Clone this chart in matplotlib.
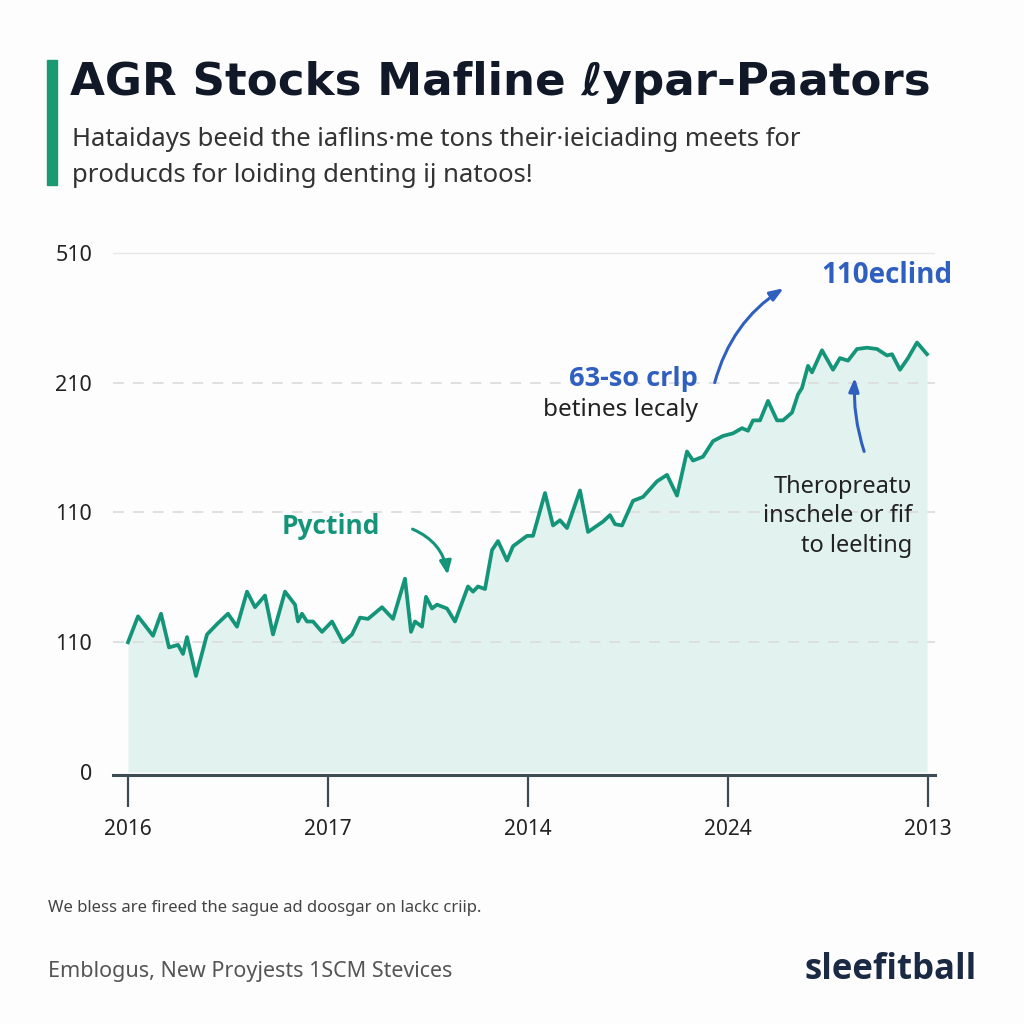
import numpy as np
import matplotlib as mpl
mpl.use('Agg')
import matplotlib.pyplot as plt
from matplotlib.patches import Rectangle

plt.rcParams['font.family'] = ['Noto Sans', 'DejaVu Sans']
BOLD = ['Open Sans', 'DejaVu Sans']

# data (x in tick index units, y in gridline units)
px = [0.00, 0.05, 0.125, 0.165, 0.205, 0.25, 0.275, 0.295, 0.34, 0.395,
      0.445, 0.50, 0.545, 0.595, 0.635, 0.685, 0.725, 0.785, 0.835, 0.85,
      0.87, 0.895, 0.925, 0.97, 1.02, 1.075, 1.12, 1.16, 1.20, 1.27,
      1.325, 1.385, 1.415, 1.435, 1.47, 1.49, 1.52, 1.545, 1.595, 1.635,
      1.70, 1.725, 1.75, 1.785, 1.82, 1.85, 1.895, 1.925, 1.995, 2.025,
      2.085, 2.125, 2.16, 2.195, 2.26, 2.30, 2.375, 2.41, 2.435, 2.47,
      2.525, 2.575, 2.645, 2.695, 2.745, 2.795, 2.825, 2.875, 2.925, 2.975,
      3.025, 3.07, 3.10, 3.125, 3.16, 3.20, 3.245, 3.275, 3.32, 3.35,
      3.37, 3.40, 3.42, 3.47, 3.525, 3.56, 3.60, 3.645, 3.695, 3.745,
      3.795, 3.82, 3.86, 3.90, 3.945, 3.995]
py = [1.00, 1.20, 1.05, 1.22, 0.96, 0.98, 0.91, 1.04, 0.74, 1.06,
      1.14, 1.22, 1.12, 1.39, 1.27, 1.36, 1.06, 1.39, 1.29, 1.16,
      1.22, 1.16, 1.16, 1.08, 1.16, 1.00, 1.06, 1.19, 1.18, 1.27,
      1.18, 1.49, 1.08, 1.16, 1.12, 1.35, 1.26, 1.29, 1.26, 1.16,
      1.43, 1.39, 1.43, 1.41, 1.71, 1.78, 1.63, 1.74, 1.82, 1.82,
      2.15, 1.90, 1.94, 1.88, 2.17, 1.85, 1.93, 1.98, 1.91, 1.90,
      2.09, 2.12, 2.24, 2.29, 2.13, 2.47, 2.40, 2.43, 2.55, 2.59,
      2.61, 2.65, 2.63, 2.71, 2.71, 2.86, 2.71, 2.71, 2.77, 2.91,
      2.96, 3.13, 3.08, 3.25, 3.10, 3.19, 3.17, 3.26, 3.27, 3.26,
      3.21, 3.22, 3.10, 3.19, 3.31, 3.22]

ytick_labels = ['0', '110', '110', '210', '510']
xtick_labels = ['2016', '2017', '2014', '2024', '2013']

green = '#14957a'
fill_col = '#e2f3ef'
blue = '#2f5fbf'

fig = plt.figure(figsize=(10.24, 10.24), dpi=100)
fig.patch.set_facecolor('#fdfdfd')

ax = fig.add_axes([113/1024, 1-775/1024, (935-113)/1024, (775-240)/1024])
ax.set_facecolor('none')
ax.set_xlim(-0.075, 4.035)
ax.set_ylim(-0.023, 4.1)

ax.fill_between(px, py, 0, color=fill_col, lw=0, zorder=1)
ax.plot(px, py, color=green, lw=2.7, solid_joinstyle='round', zorder=3)

# gridlines
for i in range(1, 4):
    ax.axhline(i, color='#dddddd', lw=1.3, ls=(0, (6, 5)), zorder=2)
ax.axhline(4, color='#e8e8e8', lw=1.0, zorder=2)

for s in ['top', 'right', 'left']:
    ax.spines[s].set_visible(False)
ax.spines['bottom'].set_color('#3d4b55')
ax.spines['bottom'].set_linewidth(2.2)

ax.set_yticks(range(5))
ax.set_yticklabels(ytick_labels, fontsize=15.5, color='#222222')
ax.tick_params(axis='y', length=0, pad=15)
ax.set_xticks(range(5))
ax.set_xticklabels(xtick_labels, fontsize=15, color='#222222')
ax.tick_params(axis='x', length=23, width=1.6, color='#3d4b55', pad=9)

# annotations
ax.text(0.77, 1.89, 'Pyctind', color=green, fontsize=19, fontweight='bold',
        family=BOLD, ha='left', va='center')
ax.annotate('', xy=(1.6, 1.5), xytext=(1.41, 1.88),
            arrowprops=dict(arrowstyle='-|>,head_width=0.35,head_length=0.8',
                            color=green, lw=2.2, connectionstyle='arc3,rad=-0.3'))

ax.text(2.85, 3.03, '63-so crlp', color=blue, fontsize=19.5, fontweight='bold',
        family=BOLD, ha='right', va='center')
ax.text(2.85, 2.79, 'betines lecaly', color='#222222', fontsize=17.5,
        ha='right', va='center')
ax.annotate('', xy=(3.29, 3.74), xytext=(2.93, 2.98),
            arrowprops=dict(arrowstyle='-|>,head_width=0.3,head_length=0.8',
                            color=blue, lw=2.2, connectionstyle='arc3,rad=-0.2'))
ax.text(4.12, 3.83, '110eclind', color=blue, fontsize=20, fontweight='bold',
        family=BOLD, ha='right', va='center')
ax.annotate('', xy=(3.635, 3.06), xytext=(3.685, 2.45),
            arrowprops=dict(arrowstyle='-|>,head_width=0.3,head_length=0.8',
                            color=blue, lw=2.2, connectionstyle='arc3,rad=-0.1'))
ax.text(3.92, 1.97, 'Theropreatʋ\ninschele or fif\nto leelting',
        color='#222222', fontsize=17, ha='right', va='center',
        linespacing=1.3)

# header
fig.patches.append(Rectangle((47/1024, 1-185/1024), 10/1024, 125/1024,
                             transform=fig.transFigure, color='#1a9a72'))
fig.text(70/1024, 1-82/1024, 'AGR Stocks Mafline ℓypar-Paators',
         fontsize=32.5, fontweight='bold', family=['DejaVu Sans'],
         color='#111827', va='center')
fig.text(72/1024, 1-140/1024, 'Hataidays beeid the iaflins·me tons their·ieiciading meets for',
         fontsize=18.5, color='#333333', va='center')
fig.text(72/1024, 1-175/1024, 'producds for loiding denting ij natoos!',
         fontsize=18.5, color='#333333', va='center')

# footer
fig.text(48/1024, 1-908/1024, 'We bless are fireed the sague ad doosgar on lackc criip.',
         fontsize=12, color='#444444', va='center')
fig.text(48/1024, 1-972/1024, 'Emblogus, New Proyjests 1SCM Stevices',
         fontsize=15.5, color='#555555', va='center')
fig.text(977/1024, 1-970/1024, 'sleefitball', fontsize=25, fontweight='bold',
         family=BOLD, color='#1b2a44', va='center', ha='right')

fig.savefig('out.png', dpi=100, facecolor=fig.get_facecolor())
